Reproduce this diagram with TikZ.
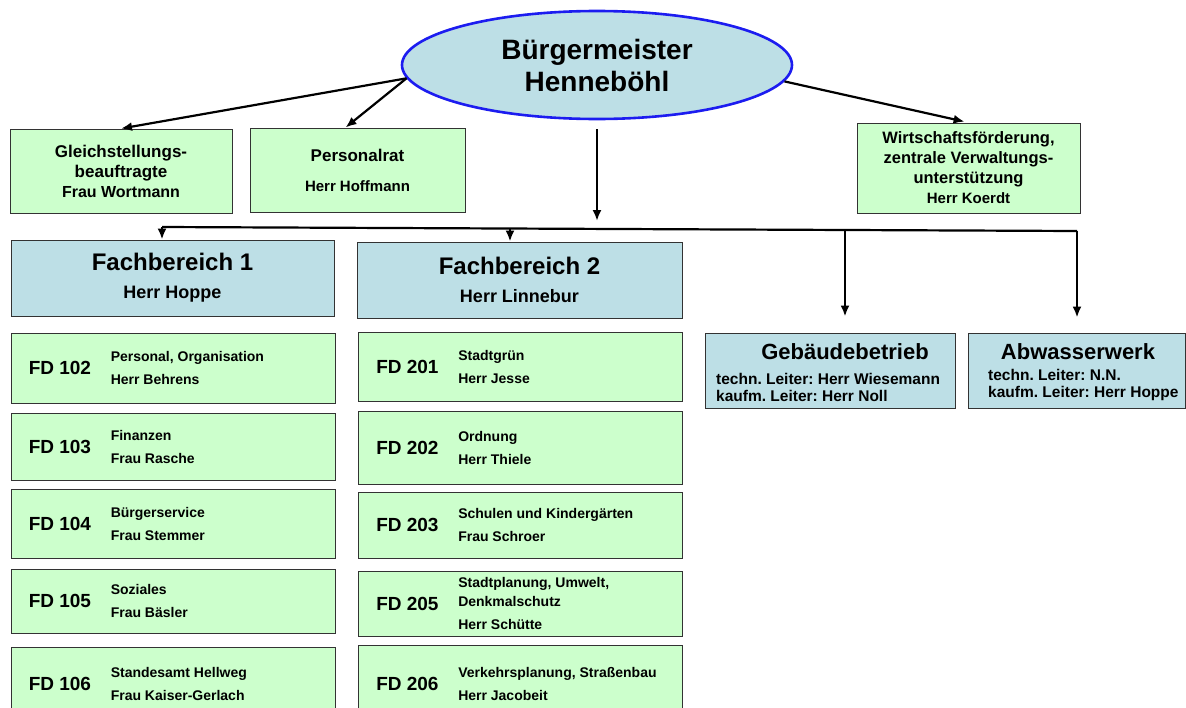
\documentclass[tikz,border=0pt]{standalone}
\usepackage{fontspec}
\setmainfont{Liberation Sans}
\usetikzlibrary{arrows.meta,shapes.geometric}
\definecolor{boxgreen}{HTML}{CCFFCC}
\definecolor{boxblue}{HTML}{BDDFE6}
\definecolor{ringblue}{HTML}{1C1CF0}
\frenchspacing

\begin{document}
\begin{tikzpicture}[
        x=1pt, y=-1pt,
        font=\bfseries,
        arr/.style={-{Latex[length=11pt,width=9pt]}, line width=2.2pt},
        greenbox/.style={draw=black!80, line width=0.9pt, fill=boxgreen, inner sep=0pt},
        bluebox/.style={draw=black!80, line width=0.9pt, fill=boxblue, inner sep=0pt},
        toptext/.style={align=center, font=\fontsize{17}{20}\selectfont\bfseries},
        fdnum/.style={anchor=west, inner sep=0pt, font=\fontsize{19}{22}\selectfont\bfseries},
        fdtext/.style={anchor=west, inner sep=0pt, align=left, font=\fontsize{14}{23}\selectfont\bfseries},
        unittext/.style={anchor=west, inner sep=0pt, align=left, font=\fontsize{15.5}{17}\selectfont\bfseries},
        unittitle/.style={inner sep=0pt, font=\fontsize{22}{24}\selectfont\bfseries},
    ]
    \useasboundingbox (0,0) rectangle (1186,707);

    % head of the town
    \node[ellipse, draw=ringblue, line width=2.6pt, fill=boxblue, minimum width=390pt,
        minimum height=108pt, align=center, font=\fontsize{28}{32}\selectfont\bfseries]
        (bgm) at (597,65) {Bürgermeister\\Henneböhl};

    % staff units
    \node[greenbox, toptext, minimum width=222pt, minimum height=84pt] (gleich) at (121,171)
        {Gleichstellungs-\\beauftragte\\\fontsize{16}{18}\selectfont Frau Wortmann};
    \node[greenbox, toptext, minimum width=215pt, minimum height=84pt] (pers) at (357.5,170)
        {Personalrat\\[10pt]\fontsize{15}{18}\selectfont Herr Hoffmann};
    \node[greenbox, toptext, minimum width=223pt, minimum height=90pt,
        font=\fontsize{16.5}{20}\selectfont\bfseries] (wirt) at (968.5,168)
        {Wirtschaftsförderung,\\zentrale Verwaltungs-\\unterstützung\\\fontsize{15}{18}\selectfont Herr Koerdt};

    % departments
    \node[bluebox, align=center, minimum width=323pt, minimum height=76pt,
        font=\fontsize{24}{28}\selectfont\bfseries] (fb1) at (172.5,278)
        {Fachbereich 1\\\fontsize{18}{22}\selectfont Herr Hoppe};
    \node[bluebox, align=center, minimum width=325pt, minimum height=76pt,
        font=\fontsize{24}{28}\selectfont\bfseries] (fb2) at (519.5,280)
        {Fachbereich 2\\\fontsize{18}{22}\selectfont Herr Linnebur};

    % municipal enterprises
    \node[bluebox, minimum width=250pt, minimum height=75pt] (geb) at (830,370.5) {};
    \node[unittitle] (gebtitle) at (845,352) {Gebäudebetrieb};
    \node[unittext] (gebtext) at (716,387)
        {techn. Leiter: Herr Wiesemann\\kaufm. Leiter: Herr Noll};
    \node[bluebox, minimum width=217pt, minimum height=75pt] (abw) at (1076.5,370.5) {};
    \node[unittitle] (abwtitle) at (1078,352) {Abwasserwerk};
    \node[unittext] (abwtext) at (988,385)
        {techn. Leiter: N.N.\\kaufm. Leiter: Herr Hoppe};

    % divisions
    \foreach \x/\num/\y/\h/\txt in {
        173/102/368/70/{Personal, Organisation\\Herr Behrens},
        173/103/446.5/67/{Finanzen\\Frau Rasche},
        173/104/523.5/69/{Bürgerservice\\Frau Stemmer},
        173/105/601/64/{Soziales\\Frau Bäsler},
        173/106/683.5/73/{Standesamt Hellweg\\Frau Kaiser-Gerlach},
        520.5/201/366.5/69/{Stadtgrün\\Herr Jesse},
        520.5/202/447.5/73/{Ordnung\\Herr Thiele},
        520.5/203/525/66/{Schulen und Kindergärten\\Frau Schroer},
        520.5/205/603.5/65/{Stadtplanung, Umwelt,\\[-4pt]Denkmalschutz\\Herr Schütte},
        520.5/206/684/78/{Verkehrsplanung, Straßenbau\\Herr Jacobeit}}
    {
        \node[greenbox, minimum width=324pt, minimum height=\h pt] (fd\num) at (\x,\y) {};
        \node[fdnum] (fdnum\num) at ([xshift=18pt]fd\num.west) {FD \num};
        \node[fdtext] (fdtext\num) at ([xshift=100pt]fd\num.west) {\txt};
    }

    % connectors
    \draw[arr] (bgm.184) -- (gleich.north);
    \draw[arr] (bgm.184) -- ([xshift=-12pt]pers.north);
    \draw[arr, shorten >=4pt] (bgm.355) -- (wirt.north);

    \coordinate (bus1) at (162,227);
    \coordinate (bus2) at (510,228);
    \coordinate (bus3) at (845,229.5);
    \coordinate (bus4) at (1077,231);
    \draw[line width=2.2pt] (bus1) -- (bus4);
    \draw[arr, shorten <=9pt, shorten >=7pt] (bgm.south) -- (bgm.south |- bus2);
    \draw[arr] (bus1) -- (bus1 |- fb1.north);
    \draw[arr] (bus2) -- (bus2 |- fb2.north);
    \draw[arr, shorten >=16pt] (bus3) -- (bus3 |- geb.north);
    \draw[arr, shorten >=15pt] (bus4) -- (bus4 |- abw.north);

\end{tikzpicture}
\end{document}
